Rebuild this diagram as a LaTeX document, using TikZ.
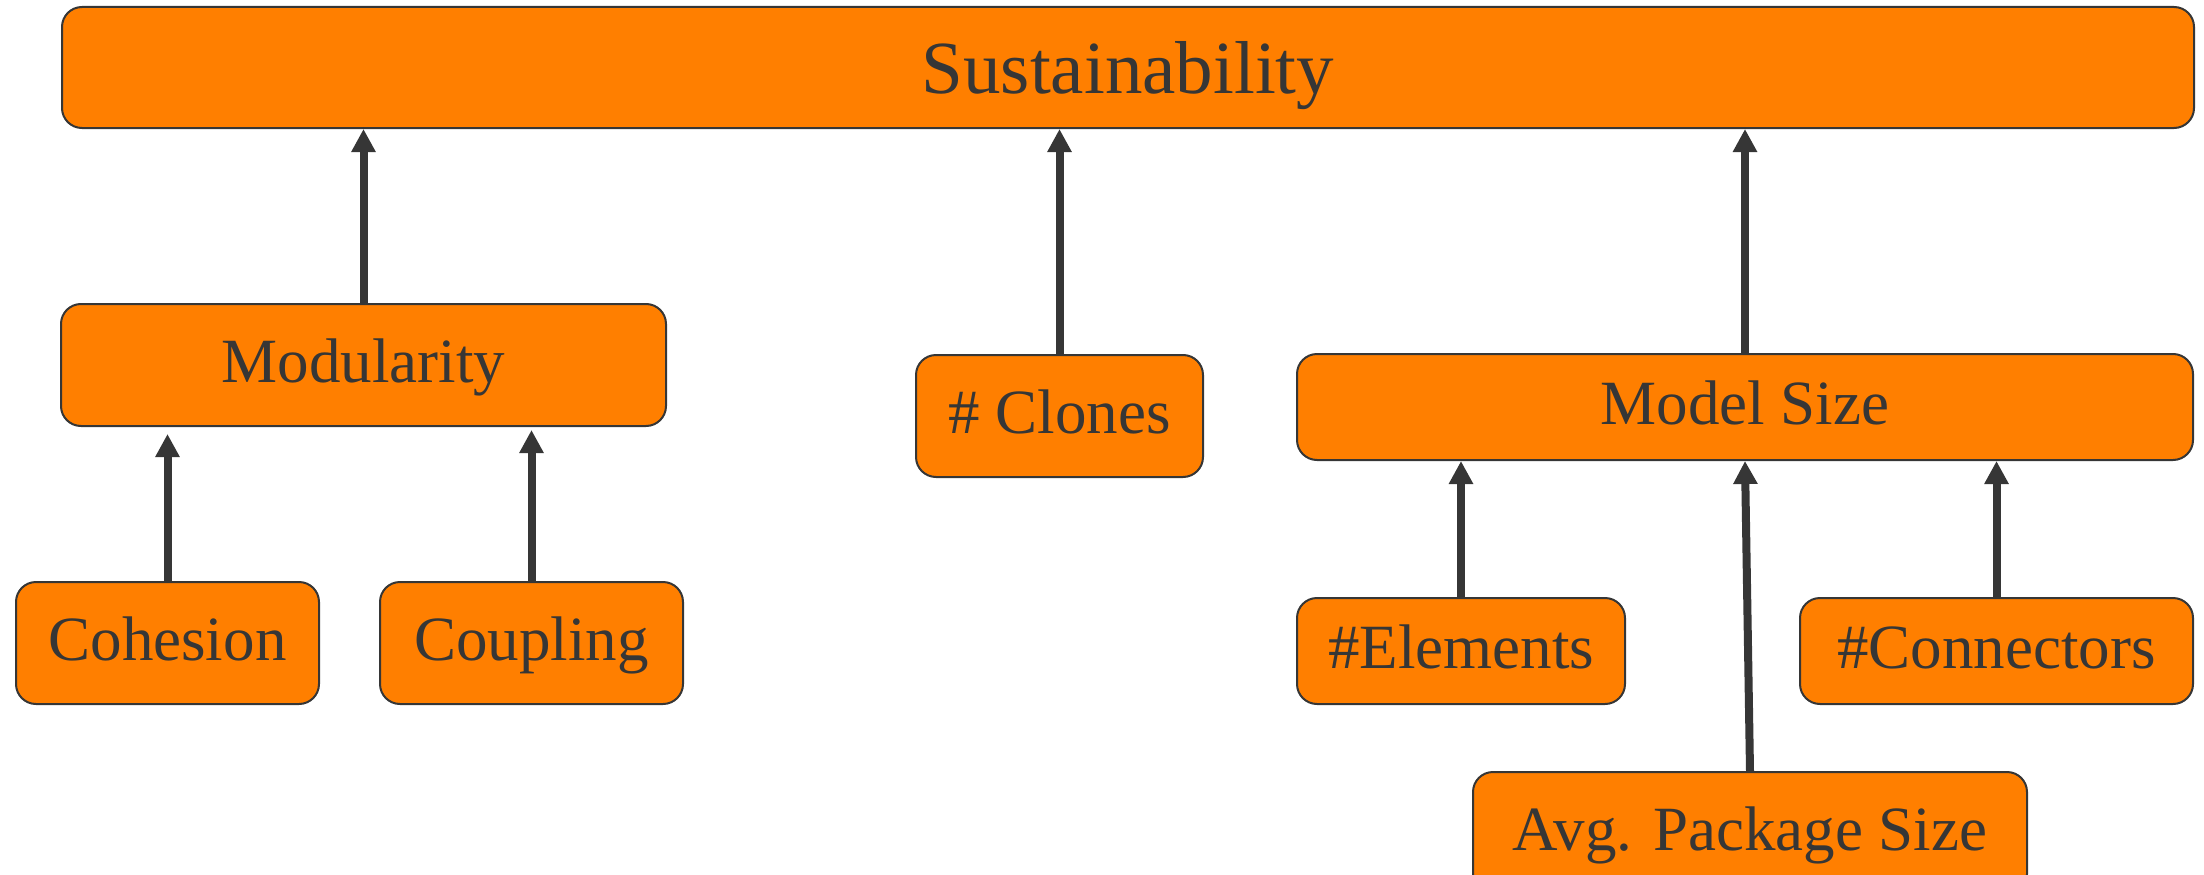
\documentclass[tikz,border=0pt]{standalone}
\usepackage{fontspec}
\setmainfont{Liberation Serif}
\usetikzlibrary{arrows.meta}
\definecolor{boxfill}{HTML}{FF7F00}
\definecolor{ink}{HTML}{363636}
\begin{document}
\begin{tikzpicture}[x=1pt,y=-1pt,
  box/.style={draw=ink, line width=2pt, fill=boxfill, rounded corners=20pt,
    inner sep=0pt, text=ink, font=\fontsize{63}{70}\selectfont,
    text height=47pt, text depth=13pt, align=center},
  link/.style={draw=ink, line width=8pt, -{Triangle[width=23pt,length=23pt]}}]
\useasboundingbox (0,0) rectangle (2204,875);
\clip (0,0) rectangle (2204,875);
\node[box, minimum width=2132pt, minimum height=121pt, font=\fontsize{75}{85}\selectfont,
  text height=70pt, text depth=18pt] (sust) at (1128,67.5) {Sustainability};
\node[box, minimum width=605pt, minimum height=122pt] (mod) at (363.5,365) {Modularity};
\node[box, minimum width=287pt, minimum height=122pt] (clo) at (1059.5,416) {\# Clones};
\node[box, minimum width=896pt, minimum height=106pt] (ms) at (1745,407) {Model Size};
\node[box, minimum width=303pt, minimum height=122pt] (coh) at (167.5,643) {Cohesion};
\node[box, minimum width=303pt, minimum height=122pt] (cou) at (531.5,643) {Coupling};
\node[box, minimum width=328pt, minimum height=106pt] (ele) at (1461,651) {\#Elements};
\node[box, minimum width=393pt, minimum height=106pt] (con) at (1996.5,651) {\#Connectors};
\node[box, minimum width=554pt, minimum height=122pt] (avg) at (1750,833) {Avg. Package Size};
\draw[link] (mod.north) -- (mod.north |- sust.south);
\draw[link] (clo.north) -- (clo.north |- sust.south);
\draw[link] (ms.north) -- (ms.north |- sust.south);
\draw[link, shorten >=7pt] (coh.north) -- (coh.north |- mod.south);
\draw[link, shorten >=3pt] (cou.north) -- (cou.north |- mod.south);
\draw[link] (ele.north) -- (ele.north |- ms.south);
\draw[link] (avg.north) -- (ms.south);
\draw[link] (con.north) -- (con.north |- ms.south);
\end{tikzpicture}
\end{document}
